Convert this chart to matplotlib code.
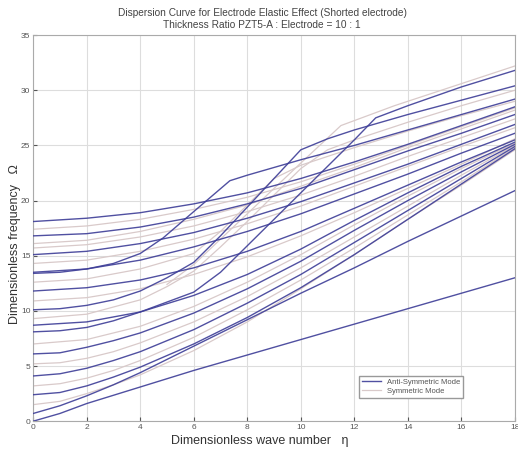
import matplotlib
matplotlib.use("Agg")
import matplotlib.pyplot as plt

plt.rcParams['font.family'] = ['Liberation Sans', 'DejaVu Sans']

# wave number / frequency pairs read along each branch
anti_modes = [
    [(0, 0), (1, 0.7), (2, 1.6), (4, 3.1), (6, 4.6), (8, 6.0), (10, 7.4), (12, 8.8), (14, 10.2), (16, 11.6), (18, 13.0)],
    [(0, 0.7), (1, 1.4), (2, 2.3), (3, 3.3), (4, 4.4), (6, 6.8), (8, 9.2), (10, 11.6), (12, 13.9), (14, 16.3), (16, 18.6), (18, 20.9)],
    [(0, 2.4), (1, 2.6), (2, 3.2), (3, 4.0), (4, 4.9), (6, 7.0), (8, 9.4), (10, 12.1), (12, 15.1), (14, 18.3), (16, 21.5), (18, 24.7)],
    [(0, 4.1), (1, 4.3), (2, 4.8), (3, 5.5), (4, 6.3), (6, 8.3), (8, 10.7), (10, 13.3), (12, 16.2), (14, 19.1), (16, 22.0), (18, 24.9)],
    [(0, 6.1), (1, 6.2), (2, 6.7), (3, 7.3), (4, 8.0), (6, 9.8), (8, 12.0), (10, 14.5), (12, 17.3), (14, 20.0), (16, 22.6), (18, 25.1)],
    [(0, 8.1), (1, 8.2), (2, 8.5), (3, 9.1), (4, 9.9), (5, 10.8), (6, 11.7), (7, 13.5), (8, 15.9), (9, 18.3), (10, 20.7),
     (11, 23.1), (12, 25.5), (12.8, 27.5), (14, 28.6), (16, 30.3), (18, 31.8)],
    [(0, 8.7), (2, 9.0), (4, 9.9), (6, 11.4), (8, 13.3), (10, 15.6), (12, 18.2), (14, 20.7), (16, 23.1), (18, 25.3)],
    [(0, 10.1), (1, 10.2), (2, 10.5), (3, 11.0), (4, 11.8), (5, 13.0), (6, 14.4), (7, 16.8), (8, 19.4), (9, 22.0),
     (10, 24.6), (11, 25.6), (12, 26.4), (14, 27.8), (16, 29.1), (18, 30.4)],
    [(0, 11.8), (2, 12.1), (4, 12.8), (6, 13.9), (8, 15.4), (10, 17.2), (12, 19.3), (14, 21.4), (16, 23.5), (18, 25.5)],
    [(0, 13.4), (1, 13.5), (2, 13.8), (3, 14.3), (4, 15.2), (4.85, 16.6), (6, 19.0), (7.35, 21.8), (8, 22.3), (9, 23.0),
     (10, 23.7), (12, 25.0), (14, 26.4), (16, 27.8), (18, 29.2)],
    [(0, 13.5), (2, 13.8), (4, 14.6), (6, 15.8), (8, 17.2), (10, 18.8), (12, 20.6), (14, 22.4), (16, 24.3), (18, 26.1)],
    [(0, 15.1), (2, 15.4), (4, 16.1), (6, 17.1), (8, 18.4), (10, 19.9), (12, 21.6), (14, 23.3), (16, 25.1), (18, 26.9)],
    [(0, 16.8), (2, 17.0), (4, 17.6), (6, 18.5), (8, 19.7), (10, 21.1), (12, 22.8), (14, 24.5), (16, 26.1), (18, 27.8)],
    [(0, 18.1), (2, 18.4), (4, 18.9), (6, 19.7), (8, 20.7), (10, 22.0), (12, 23.5), (14, 25.1), (16, 26.8), (18, 28.5)],
]

sym_modes = [
    [(0, 1.5), (1, 1.8), (2, 2.5), (3, 3.3), (4, 4.2), (6, 6.4), (8, 9.0), (10, 12.0), (12, 15.1), (14, 18.3), (16, 21.4), (18, 24.6)],
    [(0, 3.2), (1, 3.4), (2, 3.9), (3, 4.6), (4, 5.5), (6, 7.6), (8, 10.1), (10, 12.8), (12, 15.7), (14, 18.7), (16, 21.7), (18, 24.8)],
    [(0, 5.2), (1, 5.3), (2, 5.7), (3, 6.3), (4, 7.1), (6, 9.0), (8, 11.3), (10, 13.9), (12, 16.7), (14, 19.5), (16, 22.3), (18, 25.0)],
    [(0, 7.0), (2, 7.4), (4, 8.6), (6, 10.4), (8, 12.6), (10, 15.1), (12, 17.8), (14, 20.4), (16, 22.9), (18, 25.2)],
    [(0, 9.3), (2, 9.7), (4, 11.0), (5, 12.2), (6, 13.6), (7, 15.8), (8, 18.1), (9, 20.5), (10, 22.9), (11, 24.6),
     (12, 25.5), (14, 27.1), (16, 28.6), (18, 30.0)],
    [(0, 10.9), (2, 11.2), (4, 12.0), (6, 13.3), (8, 14.9), (10, 16.8), (12, 18.9), (14, 21.1), (16, 23.3), (18, 25.6)],
    [(0, 12.6), (2, 12.9), (4, 13.8), (6, 15.2), (7, 17.2), (8, 19.6), (9, 22.0), (10, 23.2), (12, 24.8), (14, 26.3), (16, 27.7), (18, 29.0)],
    [(0, 14.3), (2, 14.6), (4, 15.4), (6, 16.5), (8, 17.9), (10, 19.5), (12, 21.3), (14, 23.1), (16, 24.9), (18, 26.6)],
    [(0, 15.7), (2, 16.0), (4, 16.7), (6, 17.7), (8, 19.0), (10, 20.5), (12, 22.2), (14, 24.0), (16, 25.7), (18, 27.4)],
    [(0, 16.1), (2, 16.4), (4, 17.2), (6, 18.3), (8, 19.6), (10, 21.3), (12, 23.0), (14, 24.8), (16, 26.5), (18, 28.2)],
    [(0, 17.4), (2, 17.7), (4, 18.3), (6, 19.2), (8, 20.3), (10, 21.7), (12, 23.3), (14, 25.0), (16, 26.7), (18, 28.4)],
    [(5, 12.4), (6, 14.2), (8, 18.8), (10, 23.4), (11.5, 26.8), (13.5, 28.6), (16, 30.6), (18, 32.2)],
]

anti_color = '#3d3d97'
sym_color = '#d9caca'

fig = plt.figure(figsize=(5.18, 4.5), dpi=100)
ax = fig.add_axes([0.064, 0.064, 0.930, 0.858])

for i, pts in enumerate(sym_modes):
    eta, om = zip(*pts)
    ax.plot(eta, om, color=sym_color, lw=0.9, label='Symmetric Mode' if i == 0 else None, zorder=2)
for i, pts in enumerate(anti_modes):
    eta, om = zip(*pts)
    ax.plot(eta, om, color=anti_color, lw=1.0, alpha=0.9,
            label='Anti-Symmetric Mode' if i == 0 else None, zorder=3)

ax.set_xlim(0, 18)
ax.set_ylim(0, 35)
ax.set_xticks(range(0, 19, 2))
ax.set_yticks(range(0, 36, 5))
ax.grid(True, color='#dddddd', lw=0.8)
ax.tick_params(direction='in', labelsize=6, colors='#555555', length=3, pad=2)
for s in ax.spines.values():
    s.set_color('#aaaaaa')
    s.set_linewidth(0.8)

ax.set_xlabel('Dimensionless wave number   \u03b7', fontsize=9, color='#333333', labelpad=2)
ax.xaxis.set_label_coords(0.47, -0.035)
ax.set_ylabel('Dimensionless frequency   \u03a9', fontsize=9, color='#333333', labelpad=1)
ax.yaxis.set_label_coords(-0.026, 0.46)
ax.set_title('Dispersion Curve for Electrode Elastic Effect (Shorted electrode)\n'
             'Thickness Ratio PZT5-A : Electrode = 10 : 1', fontsize=7.3, color='#444444', pad=5,
             linespacing=1.25)
ax.title.set_x(0.475)

handles, labels = ax.get_legend_handles_labels()
order = [labels.index('Anti-Symmetric Mode'), labels.index('Symmetric Mode')]
leg = ax.legend([handles[k] for k in order], [labels[k] for k in order],
                loc='lower left', bbox_to_anchor=(0.668, 0.05), fontsize=5.5, fancybox=False,
                framealpha=1, edgecolor='#999999', handlelength=2.5, borderpad=0.4, labelspacing=0.2)
for t in leg.get_texts():
    t.set_color('#555555')

fig.savefig('out.png', dpi=100)
